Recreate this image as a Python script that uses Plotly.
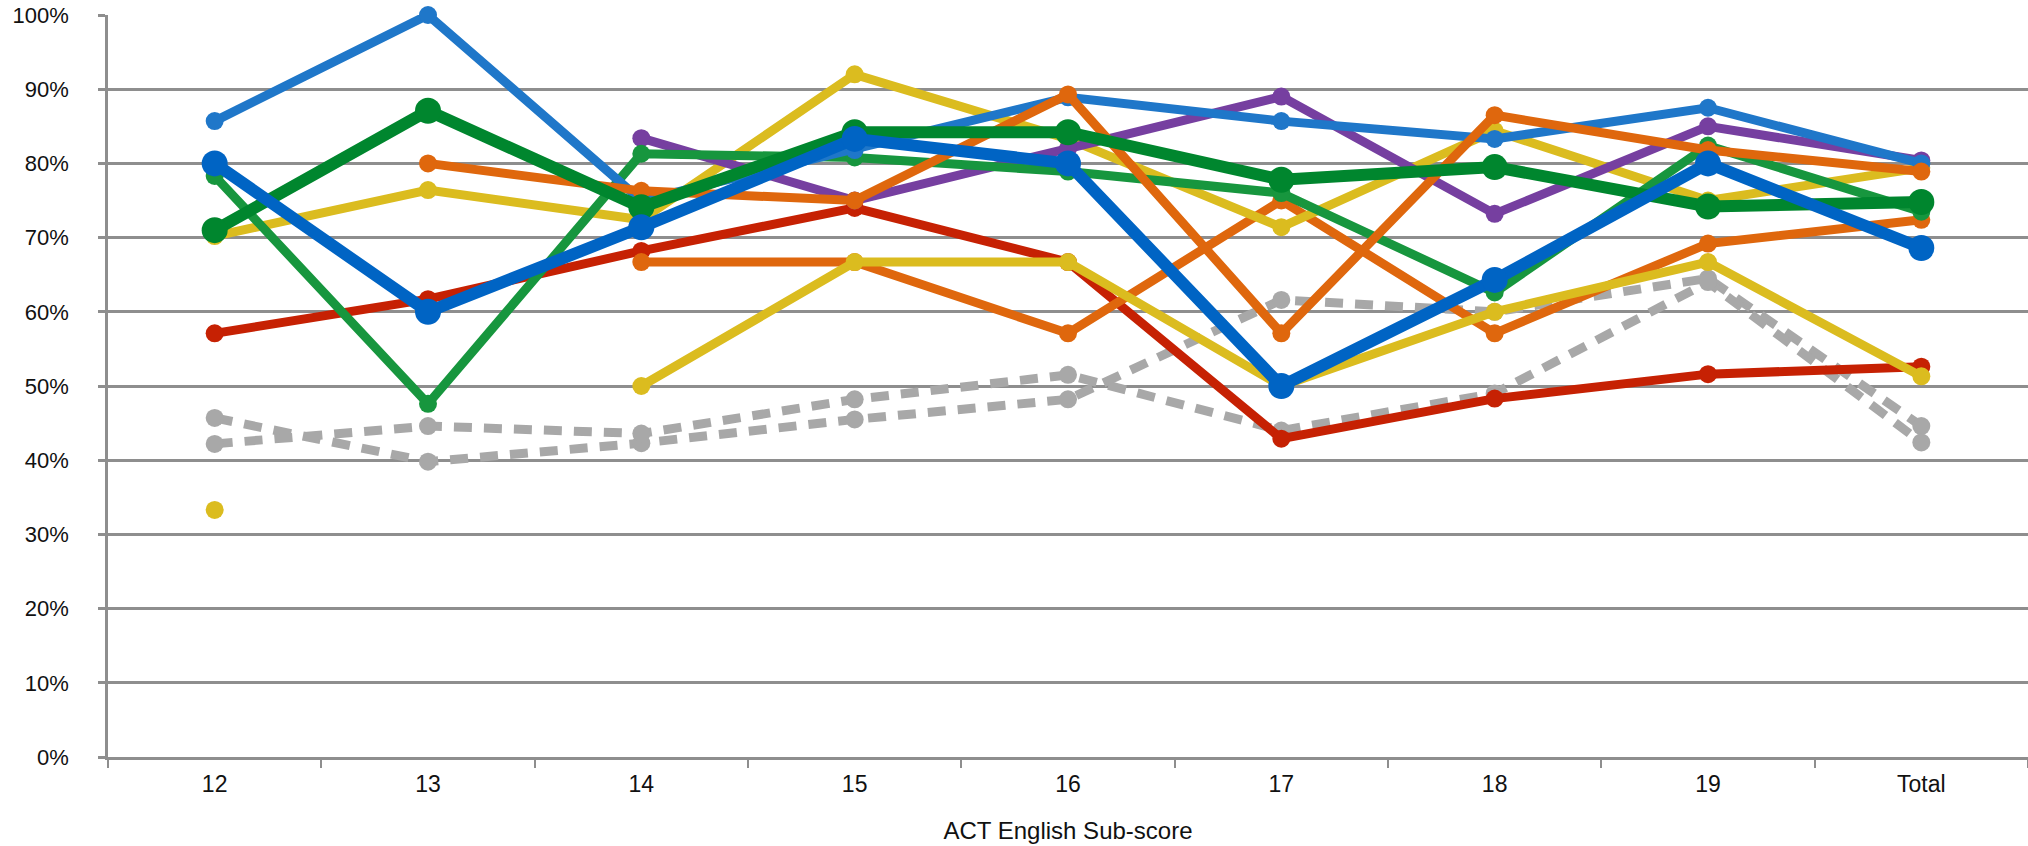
import plotly.graph_objects as go

categories = ["12", "13", "14", "15", "16", "17", "18", "19", "Total"]

grey_a = [45.7, 39.8, 42.3, 45.5, 48.2, 61.6, 60.0, 64.5, 44.6]
grey_b = [42.2, 44.6, 43.6, 48.2, 51.5, 44.0, 49.0, 64.0, 42.4]
red = [57.1, 61.7, 68.2, 74.0, 66.7, 42.9, 48.3, 51.6, 52.6]
orange_b = [None, None, 66.7, 66.7, 57.1, 75.0, 57.1, 69.2, 72.4]
yellow_b = [33.3, None, 50.0, 66.7, 66.7, 50.0, 60.0, 66.7, 51.3]
yellow_a = [70.2, 76.4, 72.4, 92.0, 83.3, 71.4, 84.4, 75.0, 79.4]
purple = [None, None, 83.4, 75.0, 82.0, 89.0, 73.2, 85.0, 80.4]
med_green = [78.3, 47.6, 81.3, 80.8, 78.9, 76.0, 62.6, 82.4, 73.5]
light_blue = [85.7, 100.0, 75.0, 81.8, 88.9, 85.7, 83.3, 87.5, 80.0]
orange_a = [None, 80.0, 76.3, 75.0, 89.3, 57.1, 86.5, 81.8, 78.9]
dark_green = [71.0, 87.1, 74.1, 84.2, 84.2, 77.8, 79.5, 74.2, 74.8]
dark_blue = [80.0, 60.0, 71.4, 83.3, 80.0, 50.0, 64.3, 80.0, 68.6]

GREY = "#a8a8a8"
RED = "#c62103"
ORANGE = "#df670d"
YELLOW = "#dbbc1f"
PURPLE = "#763fa0"
MED_GREEN = "#17963e"
LIGHT_BLUE = "#1f77c9"
DARK_GREEN = "#00862e"
DARK_BLUE = "#0064c4"
AXIS = "#8e8e8e"

# (values, colour, line width, marker size, dash) -- first drawn at the bottom
series = [
    (grey_a, GREY, 9, 18, "18px,12px"),
    (grey_b, GREY, 9, 18, "18px,12px"),
    (red, RED, 9, 18, "solid"),
    (orange_b, ORANGE, 9, 18, "solid"),
    (yellow_b, YELLOW, 9, 18, "solid"),
    (yellow_a, YELLOW, 9, 18, "solid"),
    (purple, PURPLE, 9, 18, "solid"),
    (med_green, MED_GREEN, 9, 18, "solid"),
    (light_blue, LIGHT_BLUE, 9, 18, "solid"),
    (orange_a, ORANGE, 9, 18, "solid"),
    (dark_green, DARK_GREEN, 12, 26, "solid"),
    (dark_blue, DARK_BLUE, 12, 26, "solid"),
]

fig = go.Figure()
for values, color, width, size, dash in series:
    fig.add_trace(
        go.Scatter(
            x=categories,
            y=values,
            mode="lines+markers",
            line={"color": color, "width": width, "dash": dash},
            marker={"color": color, "size": size},
            cliponaxis=False,
            connectgaps=False,
            showlegend=False,
        )
    )

fig.update_layout(
    width=2028,
    height=846,
    margin={"l": 108, "r": 0, "t": 15, "b": 89},
    paper_bgcolor="white",
    plot_bgcolor="white",
    font={"family": "Liberation Sans, Arial, Helvetica, sans-serif", "color": "#111111"},
)

fig.update_xaxes(
    type="category",
    range=[-0.5, 8.5],
    automargin=False,
    showgrid=False,
    showline=True,
    linecolor=AXIS,
    linewidth=2.5,
    ticks="outside",
    tickson="boundaries",
    ticklen=8,
    tickwidth=2,
    tickcolor=AXIS,
    tickfont={"size": 23},
    ticklabelstandoff=5,
    title={"text": "ACT English Sub-score", "font": {"size": 24}, "standoff": 26},
)

fig.update_yaxes(
    range=[0, 100],
    dtick=10,
    automargin=False,
    ticksuffix="%",
    showgrid=True,
    gridcolor=AXIS,
    gridwidth=2.5,
    zeroline=False,
    showline=True,
    linecolor=AXIS,
    linewidth=2.5,
    ticks="outside",
    ticklen=7,
    tickwidth=2.5,
    tickcolor=AXIS,
    tickfont={"size": 22},
    ticklabelstandoff=25,
    ticklabeloverflow="allow",
)

# drop the default 8px page margin so the figure fills the window exactly
fig.write_html(
    "out.html",
    config={"displayModeBar": False},
    post_script="document.body.style.margin = '0';",
)
